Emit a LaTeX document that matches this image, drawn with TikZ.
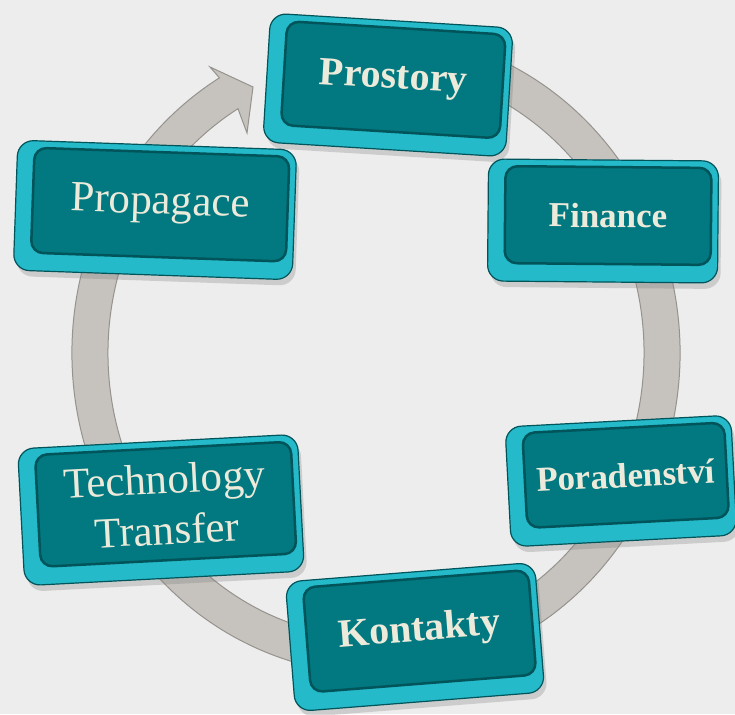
\documentclass[tikz,border=0pt]{standalone}
\usepackage{fontspec}
\setmainfont{Liberation Serif}
\usetikzlibrary{calc, shadows}

\definecolor{backdrop}{RGB}{237,237,237}
\definecolor{ringgrey}{RGB}{198,194,190}
\definecolor{ringedge}{RGB}{150,146,142}
\definecolor{keyface}{RGB}{2,121,128}
\definecolor{keyedge}{RGB}{0,84,90}
\definecolor{keybevel}{RGB}{36,186,202}
\definecolor{keytext}{RGB}{236,234,218}

\tikzset{
	keybody/.style = {rounded corners=16pt, draw=keyedge, line width=1.2pt, fill=keybevel,
		transform shape, drop shadow={shadow xshift=3pt, shadow yshift=-6pt, opacity=0.3}},
	keyface/.style = {rounded corners=12pt, draw=keyedge, line width=2.5pt, fill=keyface,
		text=keytext, align=center, inner sep=0pt, transform shape},
	boldlabel/.style = {font=\fontsize{40}{44}\selectfont\bfseries},
	plainlabel/.style = {font=\fontsize{43}{51}\selectfont},
}

% #1 label style, #2 name, #3 centre, #4 angle, #5 width, #6 height, #7 text
\newcommand{\keybox}[7][boldlabel]{%
	\begin{scope}[shift={#3}, rotate=#4]
		\node[keybody, minimum width=#5pt, minimum height=#6pt] (#2 body) at (0,0) {};
		\node[keyface, #1, minimum width=#5pt-24pt, minimum height=#6pt-25pt] (#2) at (5,5.5) {#7};
	\end{scope}}

\begin{document}
\begin{tikzpicture}[x=1pt, y=1pt]
	\def\rx{286}
	\def\ry{303}
	\def\band{18}
	
	\fill[backdrop] (0,0) rectangle (735,714);
	\useasboundingbox (0,0) rectangle (735,714);
	
	\coordinate (ring centre) at (376,361);
	\coordinate (head inner) at ($ (ring centre) + (121:\rx pt-\band pt and \ry pt-\band pt) $);
	\coordinate (tail outer) at ($ (ring centre) + (70:\rx pt+\band pt and \ry pt+\band pt) $);
	\coordinate (wing outer) at (210,647);
	\coordinate (wing inner) at (247,581);
	\coordinate (tip) at (253,627);
	
	% ring with its arrow head
	\filldraw[fill=ringgrey, draw=ringedge, line width=1pt]
		(head inner) arc [start angle=121, end angle=430, x radius=\rx-\band, y radius=\ry-\band]
		-- (tail outer) arc [start angle=430, end angle=121, x radius=\rx+\band, y radius=\ry+\band]
		-- (wing outer) -- (tip) -- (wing inner) -- cycle;
	
	% the six keys
	\keybox{prostory}{(388,629)}{-3.5}{243}{129}{Prostory}
	\keybox[boldlabel, font=\fontsize{35}{40}\selectfont\bfseries]{finance}{(603,493)}{-0.5}{230}{122}{Finance}
	\keybox[boldlabel, font=\fontsize{35}{40}\selectfont\bfseries]{poradenstvi}{(621,233)}{3}{226}{120}{Poradenství}
	\keybox{kontakty}{(415,77)}{4.5}{250}{130}{Kontakty}
	\keybox[plainlabel]{transfer}{(161,204)}{3}{280}{137}{Technology\\Transfer}
	\keybox[plainlabel]{propagace}{(155,504)}{-2}{279}{130}{Propagace}
\end{tikzpicture}
\end{document}
